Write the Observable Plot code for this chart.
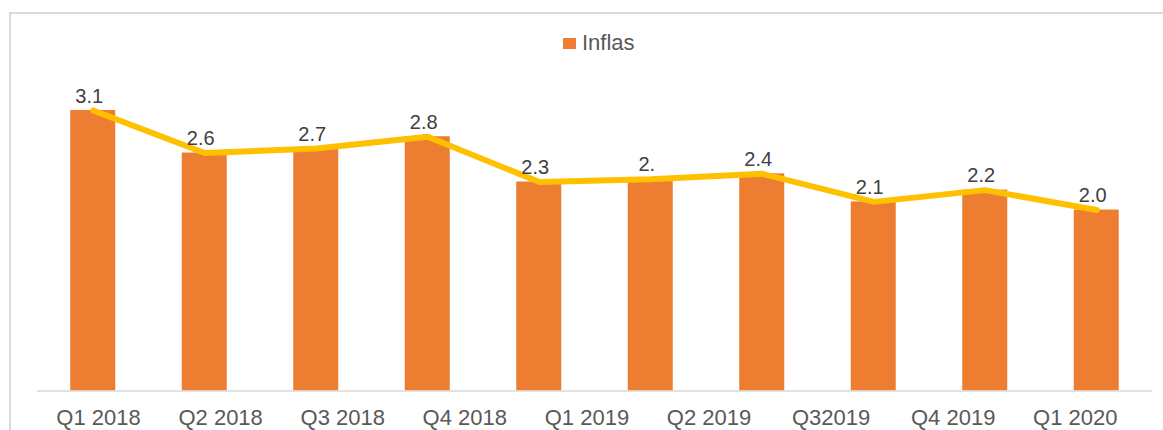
<!DOCTYPE html>
<html>
<head>
<meta charset="utf-8">
<script src="https://cdn.jsdelivr.net/npm/d3@7"></script>
<script src="https://cdn.jsdelivr.net/npm/@observablehq/plot@0.6"></script>
<style>
  html, body { margin: 0; padding: 0; background: #fff; }
  body { width: 1163px; height: 430px; overflow: hidden; position: relative; font-family: "Liberation Sans", Arial, sans-serif; }
  #frame { position: absolute; left: 9px; top: 12px; width: 1300px; height: 600px; border: 2px solid #d9d9d9; box-sizing: border-box; }
  #legend { position: absolute; left: 563px; top: 32px; height: 22px; display: flex; align-items: center; font-size: 22px; line-height: 22px; color: #595959; }
  #legend .sw { width: 13px; height: 11px; background: #ED7D31; margin-right: 6px; }
  #chart { position: absolute; left: 0; top: 60px; }
</style>
</head>
<body>
<div id="frame"></div>
<div id="legend"><span class="sw"></span><span>Inflas</span></div>
<div id="chart"></div>
<script>
// Data
const seriesName = "Inflas";
const values = [3.1, 2.63, 2.68, 2.81, 2.31, 2.34, 2.40, 2.09, 2.22, 2.0];
const valueLabels = ["3.1", "2.6", "2.7", "2.8", "2.3", "2.", "2.4", "2.1", "2.2", "2.0"];
const tickLabels = ["Q1 2018", "Q2 2018", "Q3 2018", "Q4 2018", "Q1 2019", "Q2 2019", "Q32019", "Q4 2019", "Q1 2020"];

const rows = values.map((v, i) => ({i, v, label: valueLabels[i]}));
const tickStep = 1.095; // axis categories spread across the bar range
const ticks = tickLabels.map((t, j) => ({pos: (j + 0.5) * tickStep, t}));

const chart = Plot.plot({
  width: 1163,
  height: 370,
  marginLeft: 37,
  marginRight: 11,
  marginTop: 50,
  marginBottom: 39.5,
  style: {fontFamily: "'Liberation Sans', Arial, sans-serif", background: "transparent"},
  x: {type: "linear", domain: [0, values.length], axis: null},
  y: {domain: [0, 3.1], axis: null},
  marks: [
    Plot.rectY(rows, {x1: d => d.i, x2: d => d.i + 1, y: "v", fill: "#ED7D31", insetLeft: 33.25, insetRight: 33.25}),
    Plot.ruleY([0], {x1: 0, x2: values.length, stroke: "#d9d9d9", strokeWidth: 1.5}),
    Plot.line(rows, {x: d => d.i + 0.5, y: "v", stroke: "#FFC000", strokeWidth: 6, strokeLinejoin: "miter"}),
    Plot.text(rows, {x: d => d.i + 0.5, y: "v", text: "label", lineAnchor: "bottom", dy: -8, dx: -4, fontSize: 20, fill: "#404040"}),
    Plot.axisX({ticks: ticks.map(d => d.pos), tickFormat: (p) => ticks.find(d => Math.abs(d.pos - p) < 1e-9).t, tickSize: 0, tickPadding: 18, fontSize: 22, color: "#595959", anchor: "bottom", label: null})
  ]
});
document.getElementById("chart").appendChild(chart);
</script>
</body>
</html>
